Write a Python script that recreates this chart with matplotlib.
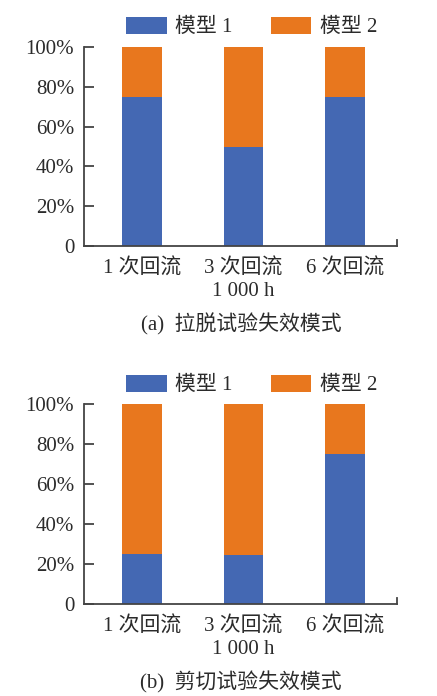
import matplotlib
matplotlib.use("Agg")
import matplotlib.pyplot as plt
from matplotlib.patches import Patch

plt.rcParams['font.family'] = ['Liberation Serif', 'Noto Sans CJK SC', 'DejaVu Sans']

categories = ["1 次回流", "3 次回流", "6 次回流"]
series_names = ["模型 1", "模型 2"]
pull_model1 = [75, 50, 75]
pull_model2 = [25, 50, 25]
shear_model1 = [25, 24.5, 75]
shear_model2 = [75, 75.5, 25]
yticks = [0, 20, 40, 60, 80, 100]
yticklabels = ["0", "20%", "40%", "60%", "80%", "100%"]
sublabel = "1 000 h"
captions = ["(a)  拉脱试验失效模式", "(b)  剪切试验失效模式"]

BLUE = "#4468B3"
ORANGE = "#E8771E"
TXT = "#2b2b2b"
SPINE = "#444444"
FS = 15

fig = plt.figure(figsize=(4.37, 6.96), dpi=100)

W, H = 437, 696
def rect(left, right, top, bottom):
    return [left / W, 1 - bottom / H, (right - left) / W, (bottom - top) / H]

panels = [
    (rect(84, 397, 47, 246), pull_model1, pull_model2, 246),
    (rect(84, 397, 404, 604), shear_model1, shear_model2, 604),
]

for i, (r, m1, m2, ybot) in enumerate(panels):
    ax = fig.add_axes(r)
    x = range(len(categories))
    ax.bar(x, m1, width=0.39, color=BLUE, zorder=2)
    ax.bar(x, m2, width=0.39, bottom=m1, color=ORANGE, zorder=2)
    ax.set_xlim(-0.57, 2.51)
    ax.set_ylim(0, 100)
    ax.set_yticks(yticks)
    ax.set_yticklabels(yticklabels)
    ax.set_xticks(list(x))
    ax.set_xticklabels(categories)
    for s in ["top", "right"]:
        ax.spines[s].set_visible(False)
    for s in ["left", "bottom"]:
        ax.spines[s].set_color(SPINE)
        ax.spines[s].set_linewidth(1.3)
    ax.tick_params(axis='y', direction='in', length=7, width=1.3, color=SPINE,
                   labelsize=FS, labelcolor=TXT, pad=7)
    ax.tick_params(axis='x', length=0, labelsize=FS, labelcolor=TXT, pad=9)
    # end cap on x axis
    ax.plot([2.51, 2.51], [0, 3], color=SPINE, lw=1.3, clip_on=False, zorder=3)
    fig.text(243.5 / W, 1 - (ybot + 45) / H, sublabel, ha='center', va='center',
             fontsize=FS, color=TXT)
    fig.text(241 / W, 1 - (ybot + 78) / H, captions[i], ha='center', va='center',
             fontsize=FS, color=TXT)
    handles = [Patch(facecolor=BLUE, edgecolor='none'), Patch(facecolor=ORANGE, edgecolor='none')]
    ly = 27 if i == 0 else 385
    fig.legend(handles, series_names, loc='center', bbox_to_anchor=(251.5 / W, 1 - ly / H),
               ncol=2, frameon=False, fontsize=FS, handlelength=1.95, handleheight=0.9,
               handletextpad=0.4, columnspacing=1.85, labelcolor=TXT)

fig.savefig("out.png", dpi=100)
